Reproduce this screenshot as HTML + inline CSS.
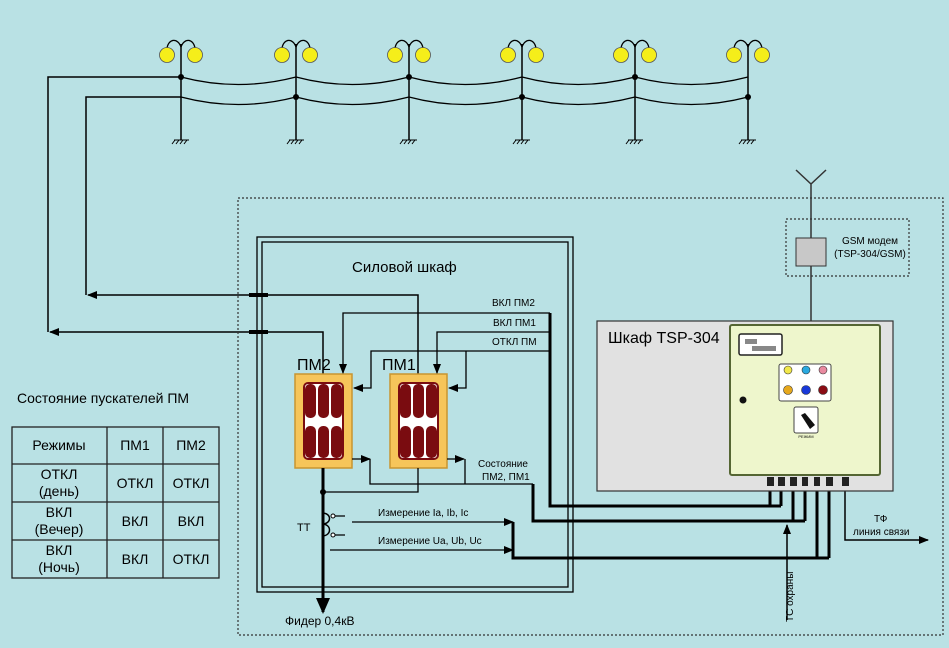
<!DOCTYPE html>
<html><head><meta charset="utf-8"><style>
html,body{margin:0;padding:0;background:#b9e1e4;}
svg{display:block;font-family:"Liberation Sans","Noto Sans CJK SC",sans-serif;}
</style></head><body>
<svg width="949" height="648" viewBox="0 0 949 648" xmlns="http://www.w3.org/2000/svg">
<defs>
<marker id="ar" markerWidth="10" markerHeight="10" refX="9" refY="5" orient="auto" markerUnits="userSpaceOnUse"><path d="M0,1 L10,5 L0,9 Z" fill="#000"/></marker>
<marker id="arb" markerWidth="16" markerHeight="16" refX="14" refY="8" orient="auto" markerUnits="userSpaceOnUse"><path d="M0,1 L16,8 L0,15 Z" fill="#000"/></marker>
<g id="lamp">
<path d="M0,47 C-3,38 -12,38 -14,48 M0,47 C3,38 12,38 14,48" fill="none" stroke="#000" stroke-width="1.3"/>
<circle cx="-14" cy="55" r="7.5" fill="#f5ee1a" stroke="#555" stroke-width="0.8"/>
<circle cx="14" cy="55" r="7.5" fill="#f5ee1a" stroke="#555" stroke-width="0.8"/>
<line x1="0" y1="44" x2="0" y2="140" stroke="#000" stroke-width="1.5"/>
<path d="M-7,140 H8 M-6,140 l-3,4 M-2,140 l-3,4 M2,140 l-3,4 M6,140 l-3,4" stroke="#000" stroke-width="1"/>
</g>
<g id="pm">
<rect x="0" y="0" width="57" height="94" fill="#f6c55a" stroke="#c89530" stroke-width="1.5"/>
<rect x="9" y="9" width="39" height="76" rx="4" fill="#fff"/>
<rect x="10" y="10" width="11" height="34" rx="5" fill="#7a0c10"/>
<rect x="23" y="10" width="11" height="34" rx="5" fill="#7a0c10"/>
<rect x="36" y="10" width="11" height="34" rx="5" fill="#7a0c10"/>
<rect x="10" y="52" width="11" height="32" rx="5" fill="#7a0c10"/>
<rect x="23" y="52" width="11" height="32" rx="5" fill="#7a0c10"/>
<rect x="36" y="52" width="11" height="32" rx="5" fill="#7a0c10"/>
<rect x="9" y="9" width="39" height="76" rx="4" fill="none" stroke="#7a0c10" stroke-width="2"/>
</g>
</defs>

<use href="#lamp" x="181"/><use href="#lamp" x="296"/><use href="#lamp" x="409"/>
<use href="#lamp" x="522"/><use href="#lamp" x="635"/><use href="#lamp" x="748"/>
<g fill="none" stroke="#000" stroke-width="1.3">
<path d="M181,77 Q238,92 296,77 Q352,92 409,77 Q465,92 522,77 Q578,92 635,77 Q691,92 748,77"/>
<path d="M181,97 Q238,112 296,97 Q352,112 409,97 Q465,112 522,97 Q578,112 635,97 Q691,112 748,97"/>
</g>
<g fill="#000"><circle cx="181" cy="77" r="3"/><circle cx="296" cy="97" r="3"/><circle cx="409" cy="77" r="3"/><circle cx="522" cy="97" r="3"/><circle cx="635" cy="77" r="3"/><circle cx="748" cy="97" r="3"/></g>

<g fill="none" stroke="#000" stroke-width="1.5">
<path d="M181,77 H48 V332"/>
<path d="M181,97 H86 V295"/>
<path d="M418,374 V295 H88" marker-end="url(#ar)"/>
<path d="M323,374 V332 H50" marker-end="url(#ar)"/>
</g>
<g stroke="#000" stroke-width="4"><line x1="249" y1="295" x2="268" y2="295"/><line x1="249" y1="332" x2="268" y2="332"/></g>

<rect x="238" y="198" width="705" height="437" fill="none" stroke="#333" stroke-width="1.2" stroke-dasharray="2,2"/>
<rect x="257" y="237" width="316" height="355" fill="none" stroke="#000" stroke-width="1.3"/>
<rect x="262" y="242" width="306" height="345" fill="none" stroke="#000" stroke-width="1.3"/>
<text x="352" y="272" font-size="15">Силовой шкаф</text>

<use href="#pm" x="295" y="374"/><use href="#pm" x="390" y="374"/>
<text x="297" y="370" font-size="16">ПМ2</text>
<text x="382" y="370" font-size="16">ПМ1</text>

<g fill="none" stroke="#000" stroke-width="1.3">
<path d="M550,313 H343 V373" marker-end="url(#ar)"/>
<path d="M550,332 H437 V373" marker-end="url(#ar)"/>
<path d="M550,351 H371 V388 H354" marker-end="url(#ar)"/>
<path d="M466,351 V388 H449" marker-end="url(#ar)"/>
<path d="M352,459 H370" marker-end="url(#ar)"/>
<path d="M447,459 H464" marker-end="url(#ar)"/>
<path d="M370,459 V484 H533"/>
<path d="M465,459 V484"/>
<path d="M418,468 V492 H323"/>
<path d="M333,516 H345 M333,535 H345"/>
<path d="M322,513 C332,513 332,524 322,524 C332,524 332,536 322,536" stroke-width="1.5"/>
<path d="M352,522 H513" marker-end="url(#ar)"/>
<path d="M330,550 H513" marker-end="url(#ar)"/>
</g>
<circle cx="333" cy="516" r="2" fill="#fff" stroke="#000"/><circle cx="333" cy="535" r="2" fill="#fff" stroke="#000"/>
<circle cx="323" cy="492" r="3" fill="#000"/>
<path d="M323,468 V612" stroke="#000" stroke-width="3" fill="none" marker-end="url(#arb)"/>
<text x="285" y="625" font-size="12">Фидер 0,4кВ</text>
<text x="297" y="531" font-size="11">ТТ</text>
<text x="378" y="516" font-size="10">Измерение Ia, Ib, Ic</text>
<text x="378" y="544" font-size="10">Измерение Ua, Ub, Uc</text>
<text x="492" y="306" font-size="10">ВКЛ ПМ2</text>
<text x="493" y="326" font-size="10">ВКЛ ПМ1</text>
<text x="492" y="345" font-size="10">ОТКЛ ПМ</text>
<text x="478" y="467" font-size="10">Состояние</text>
<text x="482" y="480" font-size="10">ПМ2, ПМ1</text>

<g fill="none" stroke="#000" stroke-width="3">
<path d="M550,313 V506 H781 M770,506 V486 M781,506 V486"/>
<path d="M533,484 V521 H805 M793,521 V486 M805,521 V486"/>
<path d="M513,522 V558 H829 M817,558 V486 M829,558 V486"/>
</g>
<path d="M787,620 V525" stroke="#000" stroke-width="1.5" marker-end="url(#ar)"/>
<path d="M845,486 V540 H928" stroke="#000" stroke-width="1.5" fill="none" marker-end="url(#ar)"/>
<text transform="translate(793,622) rotate(-90)" font-size="10">ТС охраны</text>
<text x="874" y="522" font-size="10">ТФ</text>
<text x="853" y="535" font-size="10">линия связи</text>

<path d="M811,321 V184 M796,170 L811,184 L826,170" stroke="#333" stroke-width="1.5" fill="none"/>
<rect x="786" y="219" width="123" height="57" fill="none" stroke="#333" stroke-width="1.2" stroke-dasharray="2,2"/>
<rect x="796" y="238" width="30" height="28" fill="#c8c8c8" stroke="#333"/>
<text x="870" y="244" font-size="10" text-anchor="middle">GSM модем</text>
<text x="870" y="257" font-size="10" text-anchor="middle">(TSP-304/GSM)</text>

<rect x="597" y="321" width="296" height="170" fill="#e1e1e1" stroke="#333" stroke-width="1.2"/>
<text x="608" y="343" font-size="16">Шкаф TSP-304</text>
<rect x="730" y="325" width="150" height="150" rx="2" fill="#eef6cc" stroke="#556633" stroke-width="2"/>
<rect x="739" y="334" width="43" height="21" rx="2" fill="#fff" stroke="#222" stroke-width="1.5"/>
<rect x="745" y="339" width="12" height="5" fill="#888"/><rect x="752" y="346" width="24" height="5" fill="#888"/>
<rect x="779" y="364" width="52" height="37" rx="2" fill="#fff" stroke="#444"/>
<circle cx="788" cy="370" r="4" fill="#f2e84a" stroke="#333" stroke-width=".6"/>
<circle cx="806" cy="370" r="4" fill="#2aa9e0" stroke="#333" stroke-width=".6"/>
<circle cx="823" cy="370" r="4" fill="#e98aa0" stroke="#333" stroke-width=".6"/>
<circle cx="788" cy="390" r="4.5" fill="#e6a81c" stroke="#333" stroke-width=".6"/>
<circle cx="806" cy="390" r="4.5" fill="#1838d8" stroke="#333" stroke-width=".6"/>
<circle cx="823" cy="390" r="4.5" fill="#8a0c14" stroke="#333" stroke-width=".6"/>
<rect x="794" y="407" width="24" height="26" rx="2" fill="#fff" stroke="#444"/>
<path d="M801,415 L810,429 L815,425 L805,413 Z" fill="#111"/>
<text x="806" y="438" font-size="4" text-anchor="middle">РЕЖИМ</text>
<circle cx="743" cy="400" r="3.5" fill="#111"/>
<g fill="#222"><rect x="767" y="477" width="7" height="9"/><rect x="778" y="477" width="7" height="9"/><rect x="790" y="477" width="7" height="9"/><rect x="802" y="477" width="6" height="9"/><rect x="814" y="477" width="6" height="9"/><rect x="826" y="477" width="7" height="9"/><rect x="842" y="477" width="7" height="9"/></g>

<text x="17" y="403" font-size="14">Состояние пускателей ПМ</text>
<g fill="none" stroke="#222" stroke-width="1.3">
<rect x="12" y="427" width="207" height="151"/>
<path d="M107,427 V578 M163,427 V578 M12,464 H219 M12,502 H219 M12,540 H219"/>
</g>
<g font-size="14" text-anchor="middle">
<text x="59" y="450">Режимы</text><text x="135" y="450">ПМ1</text><text x="191" y="450">ПМ2</text>
<text x="59" y="479">ОТКЛ</text><text x="59" y="496">(день)</text><text x="135" y="488">ОТКЛ</text><text x="191" y="488">ОТКЛ</text>
<text x="59" y="517">ВКЛ</text><text x="59" y="534">(Вечер)</text><text x="135" y="526">ВКЛ</text><text x="191" y="526">ВКЛ</text>
<text x="59" y="555">ВКЛ</text><text x="59" y="572">(Ночь)</text><text x="135" y="564">ВКЛ</text><text x="191" y="564">ОТКЛ</text>
</g>
</svg>
</body></html>
